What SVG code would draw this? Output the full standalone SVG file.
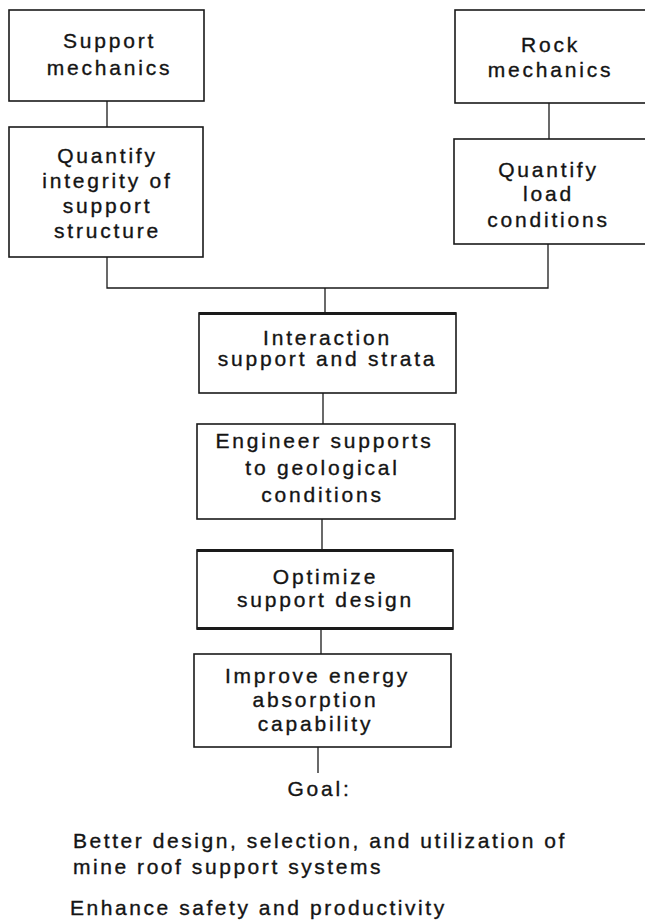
<svg xmlns="http://www.w3.org/2000/svg" width="645" height="921" viewBox="0 0 645 921">
<style>
.box{fill:#fff;stroke:#1a1a1a;stroke-width:1.6}
.thick{fill:none;stroke:#1a1a1a;stroke-width:3}
.t{font-family:"Liberation Sans",Arial,Helvetica,sans-serif;font-size:21px;letter-spacing:2.8px;fill:#141414;stroke:#141414;stroke-width:0.35;text-anchor:middle}
.l{font-family:"Liberation Sans",Arial,Helvetica,sans-serif;font-size:21px;letter-spacing:2.55px;fill:#141414;stroke:#141414;stroke-width:0.35}
.c{fill:none;stroke:#1a1a1a;stroke-width:1.3}
</style>
<rect width="645" height="921" fill="#fff"/>
<g id="connectors">
<path class="c" d="M107,101V127"/>
<path class="c" d="M549,103V139"/>
<path class="c" d="M107,257V288H548V244"/>
<path class="c" d="M325,288V313"/>
<path class="c" d="M323,393V424"/>
<path class="c" d="M322,519V550"/>
<path class="c" d="M321,629V654"/>
<path class="c" d="M318,747V773"/>
</g>
<g id="support-mechanics">
<rect class="box" x="9" y="10" width="195" height="91"/>
<text class="t" x="109.5" y="48">Support</text>
<text class="t" x="109.5" y="75">mechanics</text>
</g>
<g id="quantify-integrity">
<rect class="box" x="9" y="127" width="194" height="130"/>
<text class="t" x="107.5" y="163">Quantify</text>
<text class="t" x="107.5" y="188">integrity of</text>
<text class="t" x="107.5" y="213">support</text>
<text class="t" x="107.5" y="238">structure</text>
</g>
<g id="rock-mechanics">
<rect class="box" x="455" y="10" width="200" height="93"/>
<text class="t" x="550.5" y="52">Rock</text>
<text class="t" x="550.5" y="77">mechanics</text>
</g>
<g id="quantify-load">
<rect class="box" x="454" y="139" width="200" height="105"/>
<text class="t" x="548.5" y="177">Quantify</text>
<text class="t" x="548.5" y="201">load</text>
<text class="t" x="548.5" y="227">conditions</text>
</g>
<g id="interaction">
<rect class="box" x="199" y="313" width="257" height="80"/>
<path class="thick" d="M199,313.5H456" stroke-width="2.2"/>
<text class="t" x="327.5" y="345">Interaction</text>
<text class="t" x="327.5" y="366">support and strata</text>
</g>
<g id="engineer">
<rect class="box" x="197" y="424" width="258" height="95"/>
<text class="t" x="324.5" y="448">Engineer supports</text>
<text class="t" x="322.5" y="475">to geological</text>
<text class="t" x="322.5" y="502">conditions</text>
</g>
<g id="optimize">
<rect class="box" x="197" y="550" width="256" height="79"/>
<path class="thick" d="M197,550.5H453"/>
<path class="thick" d="M197,628.5H453" stroke-width="2"/>
<text class="t" x="325.5" y="584">Optimize</text>
<text class="t" x="325.5" y="607">support design</text>
</g>
<g id="improve">
<rect class="box" x="194" y="654" width="257" height="93"/>
<text class="t" x="317.5" y="683">Improve energy</text>
<text class="t" x="315.5" y="707">absorption</text>
<text class="t" x="315.5" y="731">capability</text>
</g>
<g id="goal">
<text class="t" x="319.5" y="796">Goal:</text>
<text class="l" x="73" y="848">Better design, selection, and utilization of</text>
<text class="l" x="73" y="874">mine roof support systems</text>
<text class="l" x="70" y="915">Enhance safety and productivity</text>
</g>
</svg>
